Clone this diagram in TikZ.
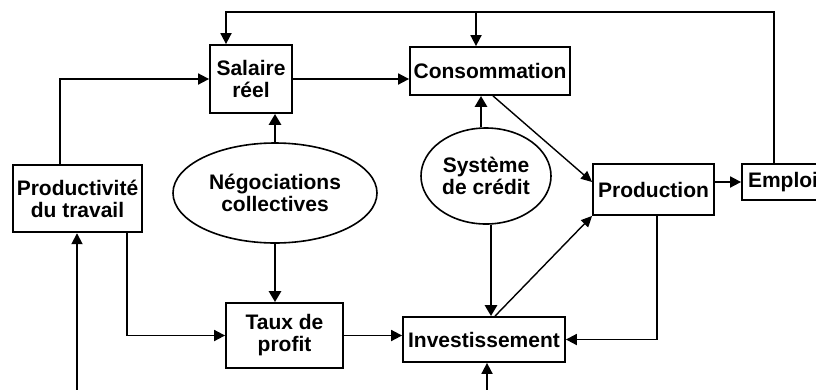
\documentclass[tikz,border=0pt]{standalone}
\usepackage{fontspec}
\setmainfont{Liberation Sans}
\usetikzlibrary{arrows.meta,shapes.geometric}
\begin{document}
\begin{tikzpicture}[x=1pt,y=-1pt,
  every node/.style={font=\fontsize{21}{22}\selectfont\bfseries, align=center, inner sep=0pt},
  boxnode/.style={draw, line width=1.8pt, rectangle},
  ellnode/.style={draw, line width=1.6pt, ellipse},
  arr/.style={line width=1.8pt, -{Triangle[length=11pt,width=11pt]}},
  thickarr/.style={line width=2.8pt, -{Triangle[length=11pt,width=12pt]}},
  thinarr/.style={line width=1.4pt, -{Triangle[length=11pt,width=10pt]}}]
\useasboundingbox (0,0) rectangle (816,389);
\clip (0,0) rectangle (816,389);
\node[boxnode, minimum width=82pt, minimum height=68pt] (sal) at (251,79) {Salaire\\réel};
\node[boxnode, minimum width=160pt, minimum height=48pt] (cons) at (490,71) {Consommation};
\node[boxnode, line width=2.4pt, minimum width=129pt, minimum height=67pt] (prod) at (77.5,198.5) {Productivité\\du travail};
\node[ellnode, minimum width=204pt, minimum height=100pt] (nego) at (275,193) {Négociations\\collectives};
\node[boxnode, minimum width=117pt, minimum height=65pt] (taux) at (284.5,335.5) {Taux de\\profit};
\node[boxnode, minimum width=162pt, minimum height=45pt] (inv) at (484,339.5) {Investissement};
\node[ellnode, minimum width=130pt, minimum height=96pt] (sys) at (486,176) {Système\\de crédit};
\node[boxnode, minimum width=121pt, minimum height=51pt] (pro) at (653.5,189.5) {Production};
\node[boxnode, minimum width=82pt, minimum height=36pt, text width=70pt, align=left] (emp) at (783,182) {Emploi};
\coordinate (tr) at (774,12);
\coordinate (tl) at (226,12);
\coordinate (tm) at (476,12);
\coordinate (px) at (60,0);
\coordinate (pt) at (127,0);
\coordinate (pb) at (77,395);
\coordinate (ib) at (487,395);
\draw[arr] (tr |- emp.north) -- (tr) -- (tl) -- (tl |- sal.north);
\draw[arr] (tm) -- (tm |- cons.north);
\draw[arr] (px |- prod.north) |- (sal.west);
\draw[arr] (sal.east) -- (sal.east -| cons.west);
\draw[thickarr] (nego.north) -- (nego.north |- sal.south);
\draw[thickarr] (nego.south) -- (nego.south |- taux.north);
\draw[arr] (pt |- prod.south) |- (taux.west);
\draw[arr] (pb) -- (pb |- prod.south);
\draw[arr] (taux.east) -- (taux.east -| inv.west);
\draw[arr] (ib) -- (ib |- inv.south);
\draw[thickarr] ([xshift=-5pt]sys.north) -- ([xshift=-5pt]sys.north |- cons.south);
\draw[thickarr] ([xshift=5pt]sys.south) -- ([xshift=5pt]sys.south |- inv.north);
\draw[thinarr] ([xshift=11pt]inv.north) -- (pro.south west);
\draw[thinarr] ([xshift=3pt]cons.south) -- ([yshift=7.5pt]pro.west);
\draw[arr] ([xshift=3.5pt]pro.south) |- (inv.east);
\draw[arr] (pro.east |- emp.west) -- (emp.west);
\end{tikzpicture}
\end{document}
